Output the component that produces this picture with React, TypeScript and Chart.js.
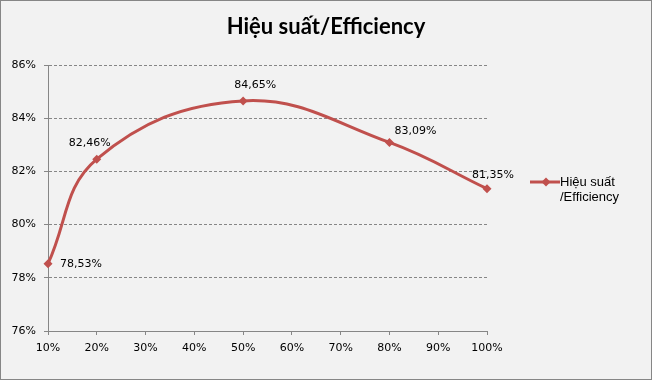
import React, { useEffect, useRef } from "react";
import { Chart, registerables } from "chart.js";

Chart.register(...registerables);

const loadLevels = [10, 20, 50, 80, 100];
const efficiency = [78.53, 82.46, 84.65, 83.09, 81.35];
const valueLabels = ["78,53%", "82,46%", "84,65%", "83,09%", "81,35%"];
const labelOffsets: [number, number][] = [[33, 0], [-7, -16], [12, -16], [26, -11], [6, -14]];
const titleText = "Hiệu suất/Efficiency";
const legendLines = ["Hiệu suất", "/Efficiency"];

const LINE_COLOR = "#c0504d";
const AXIS_COLOR = "#868686";
const TICK_FONT = "DejaVu Sans";

const decor = {
  id: "decor",
  beforeDraw(chart: any) {
    const { ctx, width, height } = chart;
    ctx.save();
    ctx.fillStyle = "#f2f2f2";
    ctx.fillRect(0, 0, width, height);
    ctx.strokeStyle = AXIS_COLOR;
    ctx.lineWidth = 1;
    ctx.strokeRect(0.5, 0.5, width - 1, height - 1);
    ctx.restore();
  },
  afterDraw(chart: any) {
    const { ctx } = chart;
    ctx.save();
    // title
    ctx.fillStyle = "#000";
    ctx.font = "bold 22px Lato";
    ctx.textAlign = "center";
    ctx.textBaseline = "middle";
    ctx.fillText(titleText, chart.width / 2, 27);
    // data labels
    const meta = chart.getDatasetMeta(0);
    ctx.font = `11px "${TICK_FONT}"`;
    meta.data.forEach((pt: any, i: number) => {
      const [dx, dy] = labelOffsets[i];
      ctx.fillText(valueLabels[i], pt.x + dx, pt.y + dy);
    });
    // legend
    const lx = 530, ly = 182;
    ctx.strokeStyle = LINE_COLOR;
    ctx.lineWidth = 3;
    ctx.beginPath();
    ctx.moveTo(lx, ly);
    ctx.lineTo(lx + 30, ly);
    ctx.stroke();
    ctx.fillStyle = LINE_COLOR;
    ctx.beginPath();
    const cx = lx + 16, r = 4.5;
    ctx.moveTo(cx, ly - r);
    ctx.lineTo(cx + r, ly);
    ctx.lineTo(cx, ly + r);
    ctx.lineTo(cx - r, ly);
    ctx.closePath();
    ctx.fill();
    ctx.fillStyle = "#000";
    ctx.font = '13px "Liberation Sans"';
    ctx.textAlign = "left";
    legendLines.forEach((t, i) => ctx.fillText(t, lx + 30, ly + i * 15));
    ctx.restore();
  },
};

export default function App() {
  const ref = useRef<HTMLCanvasElement>(null);
  useEffect(() => {
    const chart = new Chart(ref.current!, {
      type: "line",
      data: {
        datasets: [
          {
            label: legendLines.join(" "),
            data: loadLevels.map((x, i) => ({ x, y: efficiency[i] })),
            borderColor: LINE_COLOR,
            backgroundColor: LINE_COLOR,
            borderWidth: 3,
            tension: 0.4,
            pointStyle: "rectRot",
            pointRadius: 4.5,
            pointHoverRadius: 4.5,
            pointBorderWidth: 0,
            clip: false,
          } as any,
        ],
      },
      options: {
        animation: false,
        responsive: false,
        events: [],
        layout: { padding: { left: 0, right: 165, top: 65, bottom: 0 } },
        plugins: { legend: { display: false }, title: { display: false }, tooltip: { enabled: false } },
        scales: {
          x: {
            type: "linear",
            min: 10,
            max: 100,
            ticks: {
              stepSize: 10,
              color: "#000",
              padding: 7,
              font: { family: TICK_FONT, size: 11 },
              callback: (v: any) => v + "%",
            },
            grid: { drawOnChartArea: false, color: AXIS_COLOR, tickLength: 4, tickColor: AXIS_COLOR },
            border: { color: AXIS_COLOR, width: 1 },
            afterFit: (s: any) => { s.height = 49; },
          },
          y: {
            min: 76,
            max: 86,
            ticks: {
              stepSize: 2,
              color: "#000",
              padding: 8,
              font: { family: TICK_FONT, size: 11 },
              callback: (v: any) => v + "%",
            },
            grid: { color: AXIS_COLOR, tickLength: 4, tickColor: AXIS_COLOR },
            border: { color: AXIS_COLOR, width: 1, dash: [3, 2] },
            afterFit: (s: any) => { s.width = 48; },
          },
        },
      },
      plugins: [decor],
    });
    return () => chart.destroy();
  }, []);
  return (
    <div style={{ position: "absolute", left: 0, top: 0, width: 652, height: 380 }}>
      <canvas ref={ref} width={652} height={380} style={{ display: "block" }} />
    </div>
  );
}
